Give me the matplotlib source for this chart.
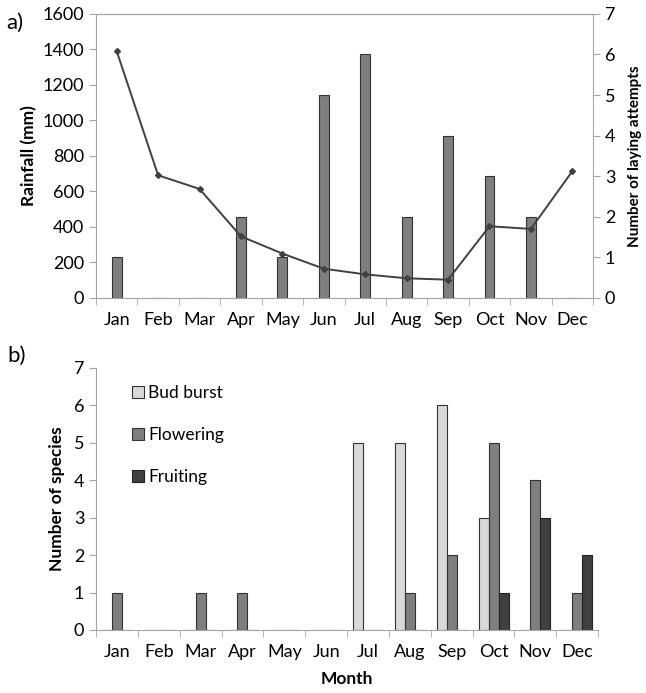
import numpy as np
import matplotlib.pyplot as plt
from matplotlib.ticker import FixedLocator

plt.rcParams['font.family'] = ['Lato', 'DejaVu Sans']

months = ["Jan", "Feb", "Mar", "Apr", "May", "Jun", "Jul", "Aug", "Sep", "Oct", "Nov", "Dec"]
rainfall = [1390, 691, 614, 347, 250, 165, 133, 111, 103, 404, 389, 714]
laying = [1, 0, 0, 2, 1, 5, 6, 2, 4, 3, 2, 0]
bud_burst = [0, 0, 0, 0, 0, 0, 5, 5, 6, 3, 0, 0]
flowering = [1, 0, 1, 1, 0, 0, 0, 1, 2, 5, 4, 1]
fruiting = [0, 0, 0, 0, 0, 0, 0, 0, 0, 1, 3, 2]

axis_gray = "#a6a6a6"
tick_fs = 13
x = np.arange(len(months))
w = 0.24


def style_x(ax):
    ax.set_xlim(-0.5, 11.5)
    ax.set_xticks(x)
    ax.set_xticklabels(months, fontsize=tick_fs)
    ax.xaxis.set_minor_locator(FixedLocator(np.arange(-0.5, 12, 1)))
    ax.tick_params(axis='x', which='major', length=0, pad=10)
    ax.tick_params(axis='x', which='minor', length=5, color=axis_gray, direction='out')


fig = plt.figure(figsize=(6.46, 6.93), dpi=100)

# panel a
ax1 = fig.add_axes([0.1486, 0.570, 0.918 - 0.1486, 0.410])
ax2 = ax1.twinx()
ax2.bar(x, laying, width=w, color="#7f7f7f", edgecolor="#333333", linewidth=0.8, zorder=2)
ax1.plot(x, rainfall, color="#404040", lw=1.4, marker="D", ms=3, zorder=3)
ax1.set_zorder(ax2.get_zorder() + 1)
ax1.patch.set_visible(False)

ax1.set_ylim(0, 1600)
ax1.set_yticks(range(0, 1601, 200))
ax2.set_ylim(0, 7)
ax2.set_yticks(range(0, 8))
style_x(ax1)
for a in (ax1, ax2):
    for s in a.spines.values():
        s.set_color(axis_gray)
ax2.spines['left'].set_visible(False)
ax1.spines['right'].set_visible(False)
ax1.tick_params(axis='y', colors=axis_gray, labelcolor="black", labelsize=tick_fs, length=5)
ax2.tick_params(axis='y', colors=axis_gray, labelcolor="black", labelsize=tick_fs, length=5)
ax1.set_ylabel("Rainfall (mm)", fontsize=12.5, fontweight="bold", labelpad=4)
ax2.set_ylabel("Number of laying attempts", fontsize=11, fontweight="bold", labelpad=9)
fig.text(0.010, 0.958, "a)", fontsize=16)

# panel b
ax3 = fig.add_axes([0.1486, 0.091, 0.926 - 0.1486, 0.378])
ax3.bar(x - w, bud_burst, width=w, color="#d9d9d9", edgecolor="#333333", linewidth=0.8, label="Bud burst")
ax3.bar(x, flowering, width=w, color="#7f7f7f", edgecolor="#333333", linewidth=0.8, label="Flowering")
ax3.bar(x + w, fruiting, width=w, color="#404040", edgecolor="#222222", linewidth=0.8, label="Fruiting")
ax3.set_ylim(0, 7)
ax3.set_yticks(range(0, 8))
style_x(ax3)
for s in ("top", "right"):
    ax3.spines[s].set_visible(False)
for s in ("left", "bottom"):
    ax3.spines[s].set_color(axis_gray)
ax3.tick_params(axis='y', colors=axis_gray, labelcolor="black", labelsize=tick_fs, length=5)
ax3.set_ylabel("Number of species", fontsize=12.5, fontweight="bold", labelpad=6)
ax3.set_xlabel("Month", fontsize=12.5, fontweight="bold", labelpad=8)
ax3.legend(loc="upper left", bbox_to_anchor=(0.04, 0.995), frameon=False, fontsize=12.5,
           handlelength=0.7, handleheight=0.7, handletextpad=0.25, labelspacing=1.5)
fig.text(0.012, 0.478, "b)", fontsize=16)

fig.savefig("out.png", dpi=100)
